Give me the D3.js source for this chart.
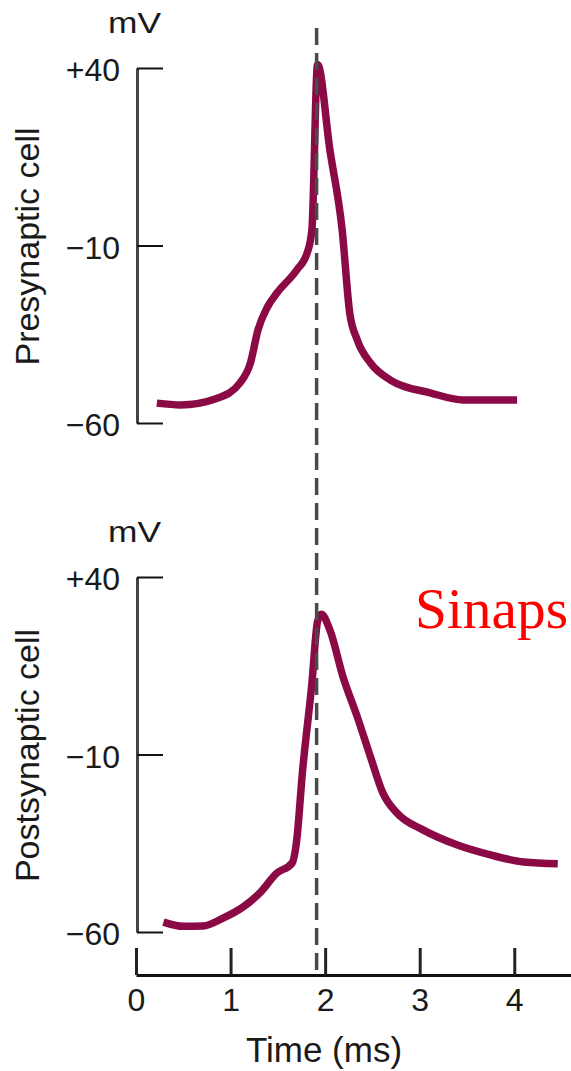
<!DOCTYPE html>
<html lang="en">

<head>
    <meta charset="UTF-8">
    <title>Presynaptic / Postsynaptic potentials</title>
    <script src="https://d3js.org/d3.v7.min.js"></script>
    <style>
        body,
        html {
            margin: 0;
            padding: 0;
            background: #fff;
        }

        .lbl {
            font-family: "Liberation Sans", Arial, sans-serif;
            fill: #1a1a1a;
        }

        .axis text {
            font-family: "Liberation Sans", Arial, sans-serif;
            fill: #1a1a1a;
        }
    </style>
</head>

<body>
    <svg width="571" height="1071" id="chart"></svg>

    <script>
        // Presynaptic trace (time in ms, membrane potential in mV)
        const preTime = [0.22, 0.47, 0.86, 1.10, 1.21, 1.29, 1.39, 1.49, 1.70, 1.81, 1.86, 1.92, 2.05, 2.18, 2.26, 2.34, 2.48, 2.69, 3.11, 3.46, 4.03];
        const preMv = [-54.4, -54.9, -53.0, -48.7, -43.1, -33.8, -27.3, -23.4, -16.9, -12.1, -5.6, 41, 17, -5.6, -29, -36.6, -43.1, -47.9, -51.5, -53.5, -53.5];

        // Postsynaptic trace
        const postTime = [0.29, 0.50, 0.71, 0.92, 1.13, 1.31, 1.49, 1.65, 1.70, 1.76, 1.86, 1.92, 1.96, 2.05, 2.19, 2.34, 2.48, 2.61, 2.76, 3.04, 3.40, 3.75, 4.10, 4.46];
        const postMv = [-57.2, -58.4, -58.3, -56.1, -53.0, -49.0, -43.4, -40.6, -34.0, -15.0, 10, 27.5, 29.5, 25.1, 11.8, 0.6, -10.7, -20.8, -26.5, -31.3, -35.5, -38.3, -40.3, -40.8];

        const xTicks = [0, 1, 2, 3, 4];
        const yTicks = [40, -10, -60];
        const yTickLabels = ["+40", "\u221210", "\u221260"];
        const synapseTime = 1.91; // dashed marker

        const svg = d3.select("#chart");
        const traceColor = "#8b0a45";

        // x scale shared by both panels; axis runs to the right edge
        const x = d3.scaleLinear().domain([0, 4.6]).range([136, 571]);

        const panels = [
            { top: 68, bottom: 423, name: "Presynaptic cell", t: preTime, v: preMv },
            { top: 577, bottom: 932, name: "Postsynaptic cell", t: postTime, v: postMv }
        ];

        panels.forEach(p => {
            const y = d3.scaleLinear().domain([-60, 40]).range([p.bottom, p.top]);

            const yAxis = svg.append("g")
                .attr("class", "axis")
                .attr("transform", "translate(137,0)")
                .call(d3.axisLeft(y)
                    .tickValues(yTicks)
                    .tickFormat((d, i) => yTickLabels[i])
                    .tickSizeInner(-26)
                    .tickSizeOuter(0)
                    .tickPadding(17));
            yAxis.select(".domain").attr("stroke", "#444").attr("stroke-width", 3);
            yAxis.selectAll(".tick line").attr("stroke", "#111").attr("stroke-width", 2);
            yAxis.selectAll(".tick text")
                .attr("font-size", 32)
                .attr("dy", "0.4em");

            // mV unit label
            svg.append("text")
                .attr("class", "lbl")
                .attr("x", 108)
                .attr("y", p.top - 35)
                .attr("font-size", 29)
                .attr("textLength", 53)
                .attr("lengthAdjust", "spacingAndGlyphs")
                .text("mV");

            // rotated panel title
            svg.append("text")
                .attr("class", "lbl")
                .attr("transform", `translate(39,${(p.top + p.bottom) / 2 + 1}) rotate(-90)`)
                .attr("text-anchor", "middle")
                .attr("font-size", 34)
                .text(p.name);

            const line = d3.line()
                .x((d, i) => x(p.t[i]))
                .y(d => y(d))
                .curve(d3.curveMonotoneX);

            svg.append("path")
                .datum(p.v)
                .attr("d", line)
                .attr("fill", "none")
                .attr("stroke", traceColor)
                .attr("stroke-width", 7.5)
                .attr("stroke-linejoin", "round");
        });

        // Time axis
        const xAxis = svg.append("g")
            .attr("class", "axis")
            .attr("transform", "translate(0,975)")
            .call(d3.axisBottom(x)
                .tickValues(xTicks)
                .tickFormat(d3.format("d"))
                .tickSizeInner(-27)
                .tickSizeOuter(0)
                .tickPadding(13));
        xAxis.select(".domain").attr("stroke", "#111").attr("stroke-width", 3);
        xAxis.selectAll(".tick line").attr("stroke", "#222").attr("stroke-width", 3);
        xAxis.selectAll(".tick text").attr("font-size", 32).attr("dy", "0.72em");

        svg.append("text")
            .attr("class", "lbl")
            .attr("x", 324)
            .attr("y", 1062)
            .attr("text-anchor", "middle")
            .attr("font-size", 35)
            .text("Time (ms)");

        // dashed line marking synaptic delay
        svg.append("line")
            .attr("x1", x(synapseTime))
            .attr("x2", x(synapseTime))
            .attr("y1", 28)
            .attr("y2", 975)
            .attr("stroke", "#4a4a4a")
            .attr("stroke-width", 3.5)
            .attr("stroke-dasharray", "17,8");

        svg.append("text")
            .attr("x", 415)
            .attr("y", 628)
            .attr("font-family", "'Liberation Serif', 'Times New Roman', serif")
            .attr("font-size", 57)
            .attr("fill", "#ff0000")
            .attr("textLength", 153)
            .attr("lengthAdjust", "spacingAndGlyphs")
            .text("Sinaps");
    </script>
</body>

</html>
